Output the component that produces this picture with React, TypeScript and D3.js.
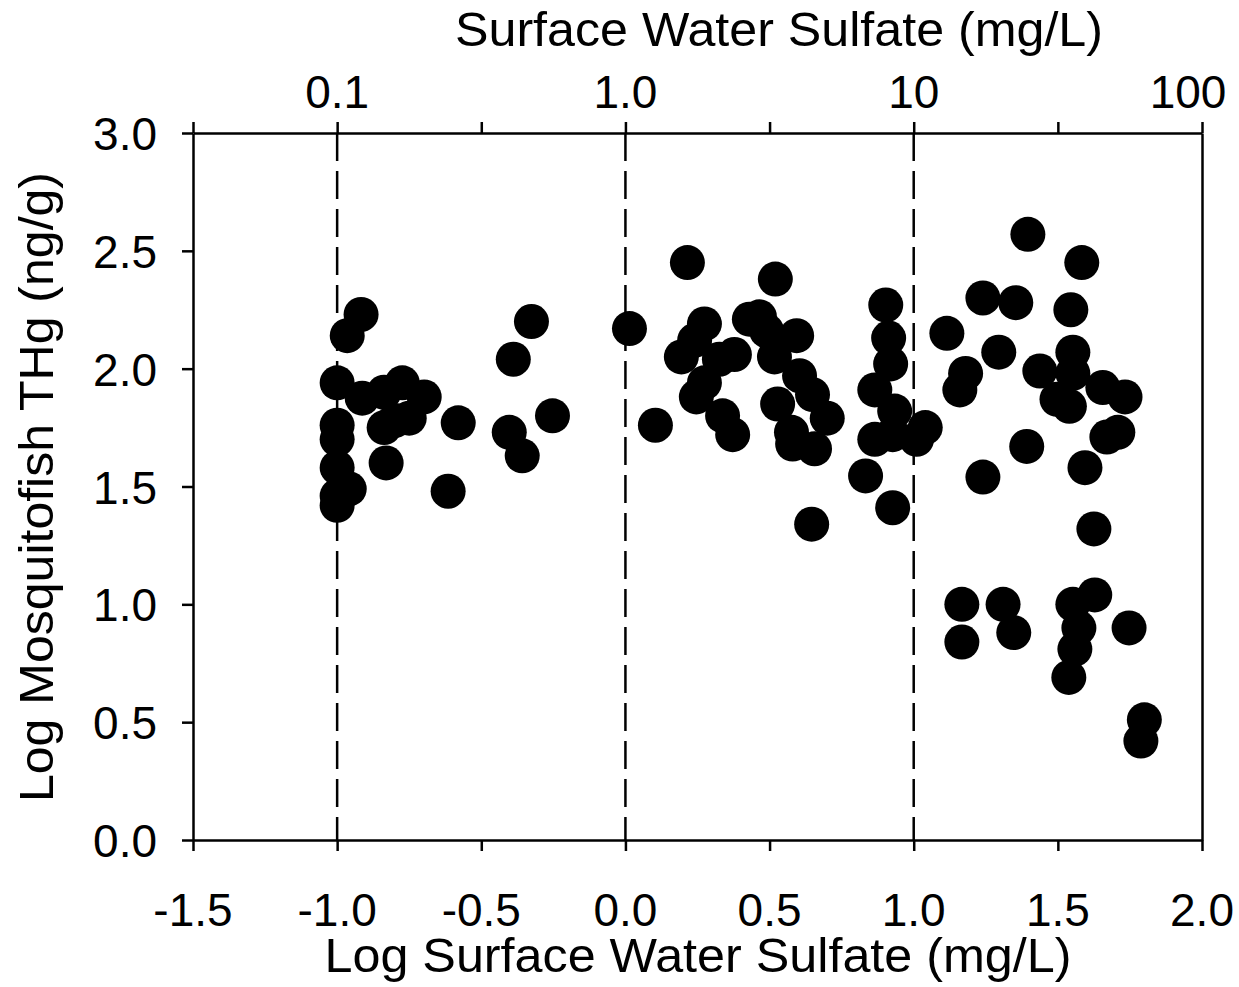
import React, { useEffect, useRef } from "react";
import * as d3 from "d3";

// Log surface water sulfate (mg/L) and log mosquitofish THg (ng/g)
const logSulfate: number[] = [
  -1.0, -0.965, -0.917, -1.0, -1.0, -1.0, -0.958, -1.0, -1.0,
  -0.913, -0.837, -0.774, -0.698, -0.75, -0.837, -0.8, -0.83, -0.58, -0.615,
  -0.326, -0.389, -0.253, -0.403, -0.358,
  0.014, 0.215, 0.52, 0.274, 0.194, 0.326, 0.378, 0.274, 0.246, 0.337, 0.372, 0.104, 0.24,
  0.43, 0.465, 0.49, 0.594, 0.517, 0.604, 0.649, 0.528, 0.70, 0.576, 0.58, 0.656, 0.646,
  0.903, 0.913, 0.92, 0.865, 0.934, 0.865, 0.927, 0.833, 0.927, 1.04, 1.01,
  1.115, 1.24, 1.354, 1.396, 1.583, 1.545, 1.295, 1.18, 1.16, 1.4375, 1.552, 1.552,
  1.497, 1.54, 1.656, 1.733, 1.708, 1.67, 1.392, 1.24, 1.594, 1.625,
  1.167, 1.167, 1.31, 1.347, 1.552, 1.628, 1.573, 1.559, 1.538, 1.747, 1.80, 1.788,
];
const logTHg: number[] = [
  1.94, 2.14, 2.23, 1.76, 1.70, 1.58, 1.49, 1.46, 1.42,
  1.875, 1.90, 1.94, 1.88, 1.79, 1.75, 1.78, 1.60, 1.77, 1.48,
  2.20, 2.04, 1.80, 1.73, 1.63,
  2.17, 2.45, 2.38, 2.19, 2.05, 2.04, 2.06, 1.94, 1.88, 1.80, 1.72, 1.76, 2.12,
  2.21, 2.22, 2.16, 2.14, 2.05, 1.97, 1.89, 1.85, 1.79, 1.73, 1.68, 1.66, 1.34,
  2.27, 2.13, 2.02, 1.91, 1.82, 1.70, 1.72, 1.545, 1.41, 1.75, 1.70,
  2.15, 2.30, 2.28, 2.57, 2.45, 2.25, 2.07, 1.98, 1.91, 1.99, 2.07, 1.98,
  1.87, 1.84, 1.92, 1.88, 1.73, 1.71, 1.67, 1.54, 1.58, 1.32,
  1.00, 0.84, 1.00, 0.88, 1.00, 1.04, 0.90, 0.81, 0.69, 0.90, 0.51, 0.42,
];

const xTicks: number[] = [-1.5, -1.0, -0.5, 0.0, 0.5, 1.0, 1.5, 2.0];
const xTickLabels: string[] = ["-1.5", "-1.0", "-0.5", "0.0", "0.5", "1.0", "1.5", "2.0"];
const yTicks: number[] = [0.0, 0.5, 1.0, 1.5, 2.0, 2.5, 3.0];
const yTickLabels: string[] = ["0.0", "0.5", "1.0", "1.5", "2.0", "2.5", "3.0"];
const topLabelValues: number[] = [-1.0, 0.0, 1.0, 2.0];
const topLabels: string[] = ["0.1", "1.0", "10", "100"];
const refLines: number[] = [-1.0, 0.0, 1.0];

const topTitle = "Surface Water Sulfate (mg/L)";
const bottomTitle = "Log Surface Water Sulfate (mg/L)";
const leftTitle = "Log Mosquitofish THg (ng/g)";

const W = 1239;
const H = 987;
const FONT = "Liberation Sans, Arial, sans-serif";

export default function App() {
  const ref = useRef<SVGSVGElement | null>(null);

  useEffect(() => {
    const svg = d3.select(ref.current);
    svg.selectAll("*").remove();

    const left = 193, right = 1202, top = 133, bottom = 840;
    const x = d3.scaleLinear().domain([-1.5, 2.0]).range([left, right]);
    const y = d3.scaleLinear().domain([0, 3.0]).range([bottom, top]);

    const sw = 2.5;

    svg.append("g")
      .selectAll("line")
      .data(refLines)
      .join("line")
      .attr("x1", (d) => x(d))
      .attr("x2", (d) => x(d))
      .attr("y1", top)
      .attr("y2", bottom)
      .attr("stroke", "#000")
      .attr("stroke-width", sw)
      .attr("stroke-dasharray", "28 10");

    svg.append("g")
      .selectAll("circle")
      .data(logSulfate.map((v, i) => [v, logTHg[i]]))
      .join("circle")
      .attr("cx", (d) => x(d[0]))
      .attr("cy", (d) => y(d[1]))
      .attr("r", 17.5)
      .attr("fill", "#000");

    const styleAxis = (g: any) => {
      g.selectAll("path").attr("stroke", "#000").attr("stroke-width", sw);
      g.selectAll("line").attr("stroke", "#000").attr("stroke-width", sw);
      g.selectAll("text").remove();
    };

    svg.append("g")
      .attr("transform", `translate(0,${bottom})`)
      .call(d3.axisBottom(x).tickValues(xTicks).tickSize(11).tickSizeOuter(0))
      .call(styleAxis);
    svg.append("g")
      .attr("transform", `translate(0,${top})`)
      .call(d3.axisTop(x).tickValues(xTicks).tickSize(11).tickSizeOuter(0))
      .call(styleAxis);
    svg.append("g")
      .attr("transform", `translate(${left},0)`)
      .call(d3.axisLeft(y).tickValues(yTicks).tickSize(11).tickSizeOuter(0))
      .call(styleAxis);
    svg.append("g")
      .attr("transform", `translate(${right},0)`)
      .call(d3.axisRight(y).tickValues([]).tickSizeOuter(0))
      .call(styleAxis);

    svg.append("g")
      .selectAll("text")
      .data(xTicks)
      .join("text")
      .attr("x", (d) => x(d))
      .attr("y", 926)
      .attr("text-anchor", "middle")
      .attr("font-family", FONT)
      .attr("font-size", 46)
      .text((d, i) => xTickLabels[i]);

    svg.append("g")
      .selectAll("text")
      .data(topLabelValues)
      .join("text")
      .attr("x", (d) => x(d))
      .attr("dx", (d, i) => (i === topLabelValues.length - 1 ? -14 : 0))
      .attr("y", 108)
      .attr("text-anchor", "middle")
      .attr("font-family", FONT)
      .attr("font-size", 46)
      .text((d, i) => topLabels[i]);

    svg.append("g")
      .selectAll("text")
      .data(yTicks)
      .join("text")
      .attr("x", 157)
      .attr("y", (d) => y(d) + 17)
      .attr("text-anchor", "end")
      .attr("font-family", FONT)
      .attr("font-size", 46)
      .text((d, i) => yTickLabels[i]);

    svg.append("text")
      .attr("x", 779)
      .attr("y", 46)
      .attr("text-anchor", "middle")
      .attr("font-family", FONT)
      .attr("font-size", 49)
      .attr("textLength", 648)
      .attr("lengthAdjust", "spacingAndGlyphs")
      .text(topTitle);

    svg.append("text")
      .attr("x", 698)
      .attr("y", 972)
      .attr("text-anchor", "middle")
      .attr("font-family", FONT)
      .attr("font-size", 49)
      .attr("textLength", 747)
      .attr("lengthAdjust", "spacingAndGlyphs")
      .text(bottomTitle);

    svg.append("text")
      .attr("transform", `translate(53,487) rotate(-90)`)
      .attr("text-anchor", "middle")
      .attr("font-family", FONT)
      .attr("font-size", 49)
      .attr("textLength", 630)
      .attr("lengthAdjust", "spacingAndGlyphs")
      .text(leftTitle);
  }, []);

  return (
    <svg
      ref={ref}
      width={W}
      height={H}
      style={{ position: "absolute", left: 0, top: 0, background: "#fff" }}
    />
  );
}
